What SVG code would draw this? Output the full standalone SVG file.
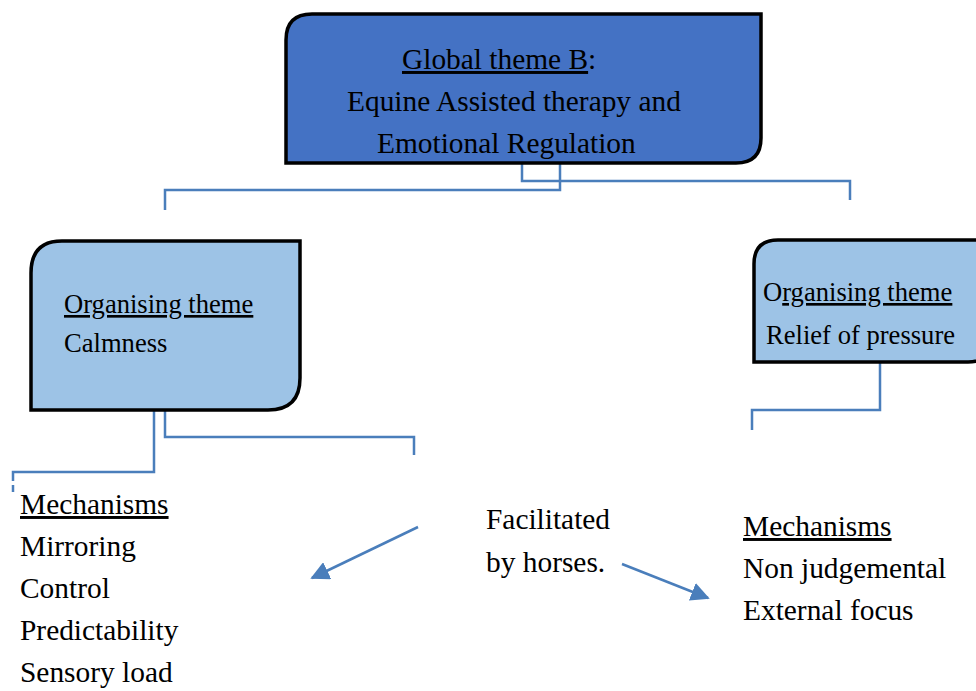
<svg xmlns="http://www.w3.org/2000/svg" width="976" height="691" viewBox="0 0 976 691">
<style>
.t{font-family:"Liberation Serif","Times New Roman",serif;font-size:29.4px;fill:#000}
.s{font-size:26.6px}
.u{text-decoration:underline}
.box{stroke:#000;stroke-width:3.5}
.c{fill:none;stroke:#4A7EBB;stroke-width:2.5}
</style>
<defs>
<marker id="ah" viewBox="0 0 10 10" refX="9" refY="5" markerWidth="7.5" markerHeight="7.5" orient="auto" markerUnits="strokeWidth">
<path d="M0,0 L10,5 L0,10 z" fill="#4A7EBB"/>
</marker>
</defs>
<rect width="976" height="691" fill="#fff"/>
<g id="connectors">
<path class="c" d="M522,163 V181 H850 V200"/>
<path class="c" d="M560,163 V190 H165 V210"/>
<path class="c" d="M154,410 V472 H13 V481"/>
<path class="c" d="M13,485 V492"/>
<path class="c" d="M165,410 V437 H414 V455"/>
<path class="c" d="M880,362 V410 H752 V430"/>
<path class="c" d="M418,527 L312,578" marker-end="url(#ah)"/>
<path class="c" d="M622,564 L708,598" marker-end="url(#ah)"/>
</g>
<g id="global">
<path class="box" fill="#4472C4" d="M312,14 H761 V138 Q761,163 736,163 H286 V40 Q286,14 312,14 Z"/>
<text class="t" x="402" y="69"><tspan class="u">Global theme B</tspan>:</text>
<text class="t" x="347" y="111">Equine Assisted therapy and</text>
<text class="t" x="377" y="153">Emotional Regulation</text>
</g>
<g id="calmness">
<path class="box" fill="#9DC3E6" d="M62,241 H300 V378 Q300,410 268,410 H31 V273 Q31,241 62,241 Z"/>
<text class="t s" x="64" y="313"><tspan class="u">Organising theme</tspan></text>
<text class="t s" x="64" y="352">Calmness</text>
</g>
<g id="relief">
<path class="box" fill="#9DC3E6" d="M778,240 H990 V340 Q990,362 968,362 H754 V264 Q754,240 778,240 Z"/>
<text class="t s" x="763" y="301">O<tspan class="u">rganising theme</tspan></text>
<text class="t s" x="766" y="344">Relief of pressure</text>
</g>
<g id="mechanisms-left">
<text class="t u" x="20" y="514">Mechanisms</text>
<text class="t" x="20" y="556">Mirroring</text>
<text class="t" x="20" y="598">Control</text>
<text class="t" x="20" y="640">Predictability</text>
<text class="t" x="20" y="682">Sensory load</text>
</g>
<g id="facilitated">
<text class="t" x="486" y="529">Facilitated</text>
<text class="t" x="486" y="572">by horses.</text>
</g>
<g id="mechanisms-right">
<text class="t u" x="743" y="536">Mechanisms</text>
<text class="t" x="743" y="578">Non judgemental</text>
<text class="t" x="743" y="620">External focus</text>
</g>
</svg>
